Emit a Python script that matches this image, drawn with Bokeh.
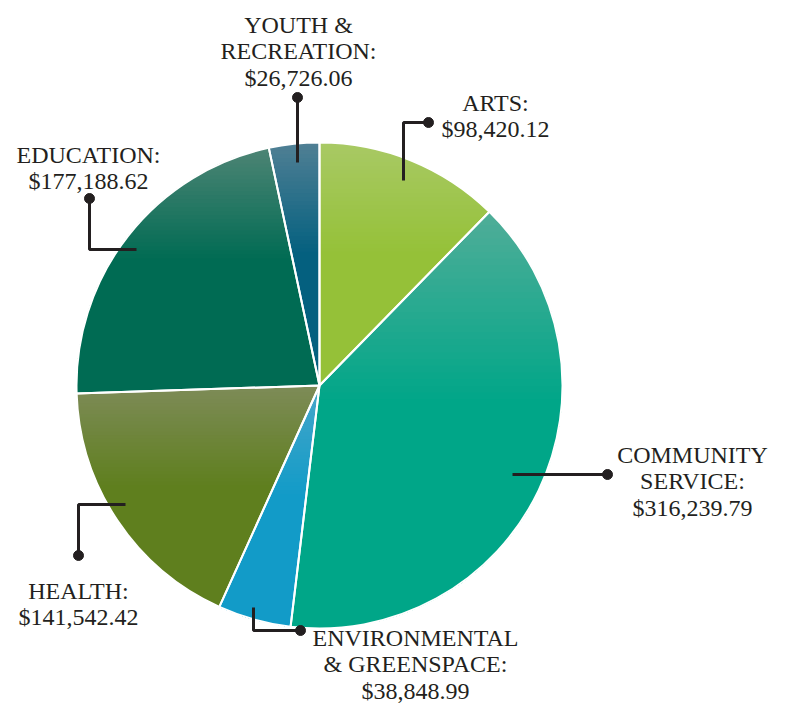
import math
from bokeh.plotting import figure
from bokeh.models import Range1d, ColumnDataSource
from bokeh.core.properties import value
from bokeh.embed import file_html
from bokeh.resources import INLINE

# ---- data ----
categories = ["ARTS", "COMMUNITY SERVICE", "ENVIRONMENTAL & GREENSPACE",
              "HEALTH", "EDUCATION", "YOUTH & RECREATION"]
amounts = [98420.12, 316239.79, 38848.99, 141542.42, 177188.62, 26726.06]
label_lines = [["ARTS:"], ["COMMUNITY", "SERVICE:"], ["ENVIRONMENTAL", "& GREENSPACE:"],
               ["HEALTH:"], ["EDUCATION:"], ["YOUTH &", "RECREATION:"]]
top_colors = ["#a8c964", "#4fad98", "#45a6c9", "#7d8b57", "#4c8474", "#4f7f94"]
bottom_colors = ["#95c138", "#00a688", "#129bc8", "#5f7f1e", "#006b53", "#04607f"]

# ---- layout (picture pixel coordinates, y downward; plotted as -y) ----
W, H = 770, 709
DY = -3
CX, CY, R = 319, 388 + DY, 243
FONT = "Liberation Serif"
FS = "24px"
LH = 26.5
INK = "#231f20"

# label anchor: (center x, baseline y of first line)
label_pos = [(495, 105), (692, 457), (415, 640), (78, 593), (88, 157), (298, 27)]
leaders = [
    [(428, 125), (403, 125), (403, 183)],
    [(607, 477), (512, 477)],
    [(300, 633), (253, 633), (253, 610)],
    [(78, 558), (78, 507), (125, 507)],
    [(89, 201), (89, 252), (136, 252)],
    [(297, 100), (297, 165)],
]
GRAD_FRAC = 0.45
STEPS = 28

p = figure(width=W, height=H, output_backend="svg", toolbar_location=None,
           x_range=Range1d(0, W), y_range=Range1d(-H, 0),
           min_border=0, outline_line_color=None)
p.axis.visible = False
p.grid.visible = False
p.background_fill_color = "white"
p.border_fill_color = "white"


def hex2rgb(h):
    h = h.lstrip("#")
    return [int(h[i:i + 2], 16) for i in (0, 2, 4)]


def mix(c1, c2, t):
    a, b = hex2rgb(c1), hex2rgb(c2)
    return "#%02x%02x%02x" % tuple(int(round(a[i] + (b[i] - a[i]) * t)) for i in range(3))


def clip_below(poly, yc):
    """keep part of polygon with y >= yc (image coords, y downward)"""
    out = []
    n = len(poly)
    for i in range(n):
        cur, nxt = poly[i], poly[(i + 1) % n]
        cin, nin = cur[1] >= yc, nxt[1] >= yc
        if cin:
            out.append(cur)
        if cin != nin:
            t = (yc - cur[1]) / (nxt[1] - cur[1])
            out.append((cur[0] + t * (nxt[0] - cur[0]), yc))
    return out


total = sum(amounts)
fracs = [a / total for a in amounts]
starts, ends = [], []
gx, gy, gc = [], [], []
cum = 0.0
for f, c_top, c_bot in zip(fracs, top_colors, bottom_colors):
    th0 = cum * 2 * math.pi
    th1 = (cum + f) * 2 * math.pi
    starts.append(math.pi / 2 - th0)
    ends.append(math.pi / 2 - th1)
    cum += f
    n = max(4, int((th1 - th0) / 0.02))
    poly = [(CX, CY)] + [(CX + R * math.sin(th0 + (th1 - th0) * k / n),
                          CY - R * math.cos(th0 + (th1 - th0) * k / n)) for k in range(n + 1)]
    ytop = min(pt[1] for pt in poly)
    ybot = max(pt[1] for pt in poly)
    hgt = ybot - ytop
    for s in range(STEPS + 1):
        yc = ytop + hgt * GRAD_FRAC * s / STEPS
        part = clip_below(poly, yc) if s > 0 else poly
        if len(part) < 3:
            continue
        gx.append([pt[0] for pt in part])
        gy.append([-pt[1] for pt in part])
        gc.append(mix(c_top, c_bot, s / STEPS))

p.patches(xs=gx, ys=gy, fill_color=gc, line_color=None)

src = ColumnDataSource(dict(x=[CX] * len(amounts), y=[-CY] * len(amounts),
                            start=starts, end=ends, cat=categories))
p.wedge(x="x", y="y", radius=R, start_angle="start", end_angle="end",
        direction="clock", fill_alpha=0, line_color="white",
        line_width=2, source=src)

# leaders
p.multi_line(xs=[[pt[0] for pt in l] for l in leaders],
             ys=[[-(pt[1] + DY) for pt in l] for l in leaders],
             line_color=INK, line_width=3)
p.scatter(x=[l[0][0] for l in leaders], y=[-(l[0][1] + DY) for l in leaders],
          size=10, marker="circle", fill_color=INK, line_color=INK)

# labels
tx, ty, tt = [], [], []
for lines, amt, (lx, ly) in zip(label_lines, amounts, label_pos):
    all_lines = lines + ["${:,.2f}".format(amt)]
    for i, t in enumerate(all_lines):
        tx.append(lx)
        ty.append(-(ly + DY + i * LH))
        tt.append(t)
p.text(x=tx, y=ty, text=tt, text_font=value(FONT), text_font_size=FS,
       text_align="center", text_baseline="alphabetic", text_color=INK)

open("out.html", "w").write(file_html(p, INLINE))
